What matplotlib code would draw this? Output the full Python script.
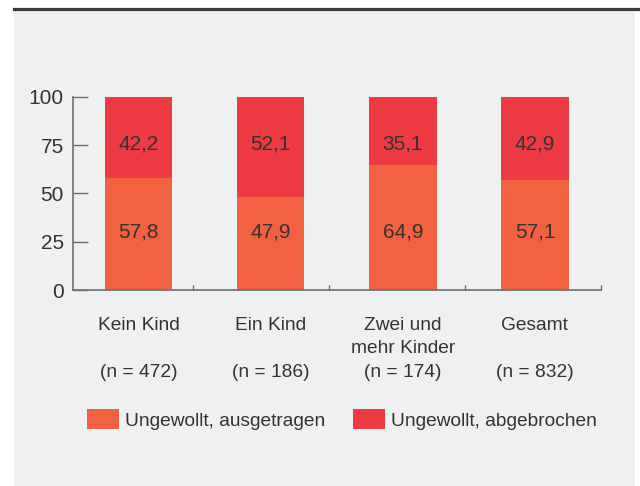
import matplotlib
matplotlib.use("Agg")
import matplotlib.pyplot as plt
from matplotlib.patches import Rectangle, Patch
from matplotlib.lines import Line2D

# === DATA ===
CATEGORIES = ["Kein Kind", "Ein Kind", "Zwei und\nmehr Kinder", "Gesamt"]
N_LABELS = ["(n = 472)", "(n = 186)", "(n = 174)", "(n = 832)"]
AUSGETRAGEN = [57.8, 47.9, 64.9, 57.1]
ABGEBROCHEN = [42.2, 52.1, 35.1, 42.9]
SERIES_NAMES = ["Ungewollt, ausgetragen", "Ungewollt, abgebrochen"]
Y_TICKS = [0, 25, 50, 75, 100]
X_TICKS = [0.41, 1.44, 2.47, 3.5]

# === STYLE ===
W, H = 640, 486
BG = "#eff0f2"
ORANGE = "#f26241"
RED = "#ee3a43"
TEXT = "#333333"
AXIS = "#6e6e6e"
FS_NUM = 15      # tick labels and values
FS_TXT = 13.8    # category labels and legend

plt.rcParams["font.family"] = ["Liberation Sans", "DejaVu Sans"]


def fx(px):
    return px / W


def fy(py):
    return 1 - py / H


fig = plt.figure(figsize=(W / 100, H / 100), dpi=100)
fig.patch.set_facecolor("white")

# grey panel and dark rule on top
fig.add_artist(Rectangle((fx(14), 0), fx(635) - fx(14), fy(10.5), transform=fig.transFigure,
                         facecolor=BG, edgecolor="none", zorder=0))
fig.add_artist(Line2D([fx(14), 1], [fy(9), fy(9)], transform=fig.transFigure,
                      color="#3a3a3a", linewidth=2.3, zorder=1))

ax = fig.add_axes([fx(72.7), fy(290), fx(601) - fx(72.7), fy(96.7) - fy(290)])
ax.set_facecolor("none")

x = range(len(CATEGORIES))
ax.bar(x, AUSGETRAGEN, width=0.51, color=ORANGE, label=SERIES_NAMES[0], zorder=2)
ax.bar(x, ABGEBROCHEN, width=0.51, bottom=AUSGETRAGEN, color=RED, label=SERIES_NAMES[1], zorder=2)

# value labels (fixed heights, as in the original)
for i in x:
    ax.text(i, 30, f"{AUSGETRAGEN[i]:.1f}".replace(".", ","), ha="center", va="center",
            fontsize=FS_NUM, color=TEXT)
    ax.text(i, 75.5, f"{ABGEBROCHEN[i]:.1f}".replace(".", ","), ha="center", va="center",
            fontsize=FS_NUM, color=TEXT)

ax.set_xlim(-0.5, 3.5)
ax.set_ylim(0, 100)
ax.set_yticks(Y_TICKS)
ax.set_yticklabels([str(t) for t in Y_TICKS])
ax.set_xticks(X_TICKS)
ax.set_xticklabels([])

for s in ["top", "right"]:
    ax.spines[s].set_visible(False)
for s in ["left", "bottom"]:
    ax.spines[s].set_color(AXIS)
    ax.spines[s].set_linewidth(1.2)

ax.tick_params(axis="y", direction="in", length=10.5, width=1.0, color=AXIS,
               labelsize=FS_NUM, labelcolor=TEXT, pad=6.5)
ax.tick_params(axis="x", direction="in", length=3.5, width=1.0, color=AXIS)

# category labels below the axis, line by line
row_base = [329.5, 353.3]
for i, cat in enumerate(CATEGORIES):
    for j, line in enumerate(cat.split("\n")):
        fig.text(fx(72.7 + (i + 0.5) * 132), fy(row_base[j]), line, ha="center", va="baseline",
                 fontsize=FS_TXT, color=TEXT)
    fig.text(fx(72.7 + (i + 0.5) * 132), fy(376.7), N_LABELS[i], ha="center", va="baseline",
             fontsize=FS_TXT, color=TEXT)

handles = [Patch(facecolor=ORANGE, edgecolor="none"), Patch(facecolor=RED, edgecolor="none")]
leg = fig.legend(handles, SERIES_NAMES, loc="center left", bbox_to_anchor=(fx(87), fy(419.5)),
                 ncol=2, frameon=False, fontsize=FS_TXT, borderpad=0, borderaxespad=0,
                 handlelength=1.65, handleheight=1.2, handletextpad=0.33, columnspacing=1.45)
for t in leg.get_texts():
    t.set_color(TEXT)

fig.savefig("out.png", dpi=100)
